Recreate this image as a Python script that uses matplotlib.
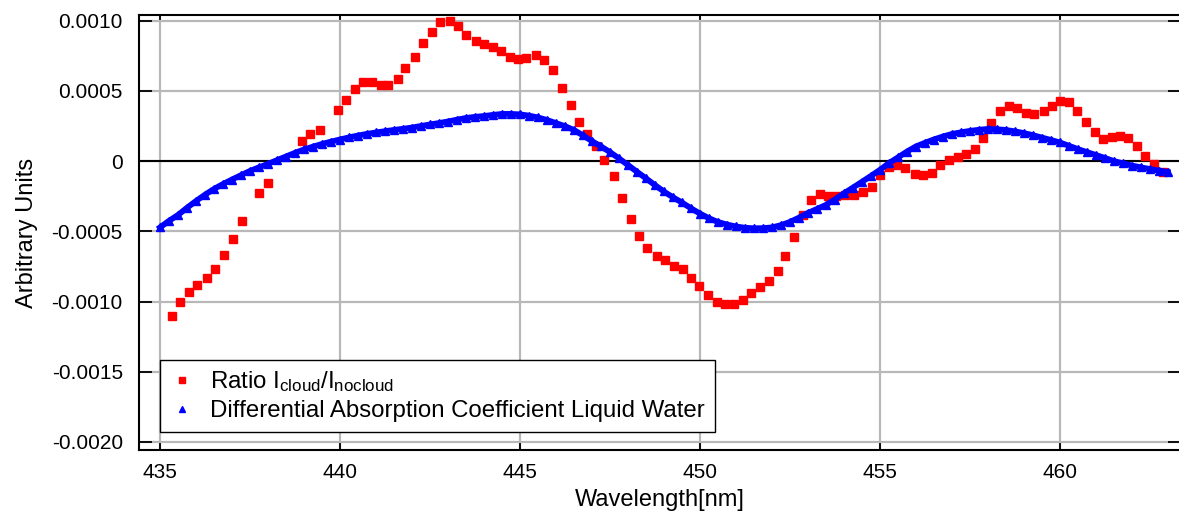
import matplotlib
matplotlib.use("Agg")
import matplotlib.pyplot as plt
from matplotlib.lines import Line2D

plt.rcParams['font.family'] = ['Liberation Sans', 'DejaVu Sans']
plt.rcParams['mathtext.fontset'] = 'custom'
plt.rcParams['mathtext.rm'] = 'Liberation Sans'
plt.rcParams['mathtext.it'] = 'Liberation Sans:italic'

# ratio I_cloud / I_nocloud (red squares), wavelength in nm, values in 1e-4
ratio_wl = [435.33, 435.56, 435.81, 436.04, 436.31, 436.54, 436.79, 437.02, 437.28, 437.76,
            437.99, 438.94, 439.18, 439.44, 439.94, 440.17, 440.41, 440.64, 440.90, 441.13,
            441.34, 441.60, 441.82, 442.08, 442.31, 442.57, 442.79, 443.06, 443.28, 443.51,
            443.77, 443.99, 444.25, 444.47, 444.73, 444.95, 445.18, 445.44, 445.67, 445.93,
            446.17, 446.42, 446.65, 446.86, 447.11, 447.34, 447.61, 447.83, 448.09, 448.32,
            448.54, 448.81, 449.04, 449.29, 449.52, 449.75, 449.99, 450.22, 450.48, 450.70,
            450.96, 451.19, 451.42, 451.68, 451.91, 452.16, 452.38, 452.61, 452.86, 453.09,
            453.35, 453.57, 453.79, 454.04, 454.29, 454.53, 454.78, 455.01, 455.26, 455.49,
            455.71, 455.97, 456.19, 456.45, 456.68, 456.91, 457.16, 457.39, 457.65, 457.88,
            458.10, 458.35, 458.58, 458.81, 459.07, 459.29, 459.55, 459.78, 460.01, 460.26,
            460.49, 460.74, 460.97, 461.19, 461.45, 461.68, 461.90, 462.16, 462.38, 462.61,
            462.86]
ratio_val = [-11.01, -10.06, -9.35, -8.85, -8.31, -7.67, -6.67, -5.53, -4.25, -2.26,
             -1.57, 1.44, 1.90, 2.19, 3.63, 4.32, 5.12, 5.62, 5.62, 5.39,
             5.39, 5.84, 6.60, 7.40, 8.40, 9.20, 9.87, 9.99, 9.61, 8.99,
             8.56, 8.33, 8.11, 7.85, 7.42, 7.24, 7.31, 7.52, 7.19, 6.48,
             5.17, 3.96, 2.80, 1.90, 1.07, 0.05, -1.09, -2.63, -4.11, -5.36,
             -6.17, -6.78, -7.05, -7.45, -7.71, -8.31, -8.90, -9.56, -10.06, -10.18,
             -10.18, -9.89, -9.40, -8.95, -8.52, -7.83, -6.78, -5.39, -3.84, -2.80,
             -2.37, -2.51, -2.51, -2.42, -2.42, -2.21, -1.87, -0.98, -0.45, -0.30,
             -0.48, -0.94, -1.00, -0.82, -0.28, 0.07, 0.31, 0.51, 0.85, 1.65,
             2.74, 3.54, 3.91, 3.75, 3.44, 3.35, 3.54, 3.89, 4.28, 4.22,
             3.59, 2.76, 2.03, 1.57, 1.71, 1.77, 1.62, 1.09, 0.38, -0.19,
             -0.76]

# differential absorption coefficient of liquid water (blue triangles), values in 1e-4
water_wl = [435.0, 435.25, 435.5, 435.75, 436.0, 436.25, 436.5, 436.75, 437.0, 437.25,
            437.5, 437.75, 438.0, 438.25, 438.5, 438.75, 439.0, 439.25, 439.5, 439.75,
            440.0, 440.25, 440.5, 440.75, 441.0, 441.25, 441.5, 441.75, 442.0, 442.25,
            442.5, 442.75, 443.0, 443.25, 443.5, 443.75, 444.0, 444.25, 444.5, 444.75,
            445.0, 445.25, 445.5, 445.75, 446.0, 446.25, 446.5, 446.75, 447.0, 447.25,
            447.5, 447.75, 448.0, 448.25, 448.5, 448.75, 449.0, 449.25, 449.5, 449.75,
            450.0, 450.25, 450.5, 450.75, 451.0, 451.25, 451.5, 451.75, 452.0, 452.25,
            452.5, 452.75, 453.0, 453.25, 453.5, 453.75, 454.0, 454.25, 454.5, 454.75,
            455.0, 455.25, 455.5, 455.75, 456.0, 456.25, 456.5, 456.75, 457.0, 457.25,
            457.5, 457.75, 458.0, 458.25, 458.5, 458.75, 459.0, 459.25, 459.5, 459.75,
            460.0, 460.25, 460.5, 460.75, 461.0, 461.25, 461.5, 461.75, 462.0, 462.25,
            462.5, 462.75, 463.0]
water_val = [-4.73, -4.26, -3.84, -3.33, -2.85, -2.40, -1.99, -1.64, -1.32, -1.01,
             -0.71, -0.45, -0.21, 0.06, 0.32, 0.58, 0.82, 1.02, 1.21, 1.38,
             1.53, 1.68, 1.81, 1.93, 2.03, 2.12, 2.21, 2.29, 2.38, 2.49,
             2.60, 2.70, 2.81, 2.94, 3.06, 3.14, 3.20, 3.28, 3.35, 3.35,
             3.32, 3.23, 3.10, 2.92, 2.70, 2.48, 2.21, 1.83, 1.42, 1.04,
             0.64, 0.19, -0.28, -0.76, -1.23, -1.71, -2.17, -2.58, -2.95, -3.36,
             -3.74, -4.07, -4.34, -4.52, -4.66, -4.75, -4.79, -4.78, -4.73, -4.57,
             -4.34, -4.04, -3.70, -3.42, -3.13, -2.74, -2.31, -1.90, -1.49, -1.07,
             -0.64, -0.16, 0.25, 0.66, 1.03, 1.29, 1.53, 1.74, 1.92, 2.04,
             2.14, 2.22, 2.28, 2.26, 2.21, 2.11, 1.99, 1.84, 1.67, 1.50,
             1.32, 1.09, 0.85, 0.64, 0.43, 0.22, 0.00, -0.16, -0.32, -0.45,
             -0.57, -0.68, -0.78]

ratio_val = [v * 1e-4 for v in ratio_val]
water_val = [v * 1e-4 for v in water_val]

x_ticks = [435, 440, 445, 450, 455, 460]
y_ticks = [0.0010, 0.0005, 0, -0.0005, -0.0010, -0.0015, -0.0020]
y_tick_labels = ['0.0010', '0.0005', '0', '-0.0005', '-0.0010', '-0.0015', '-0.0020']

fig = plt.figure(figsize=(11.79, 5.11), dpi=100)
ax = fig.add_axes([0.1183, 0.1184, 0.8834, 0.8528])

ax.plot(ratio_wl, ratio_val, linestyle='none', marker='s', ms=6,
        color='#ff0000', mec='#ff0000', zorder=3)
ax.plot(water_wl, water_val, color='#0000ff', lw=4.2, zorder=4)
ax.plot(water_wl, water_val, linestyle='none', marker='^', ms=5.5,
        color='#0000ff', zorder=4)

ax.axhline(0, color='black', lw=1.5, zorder=2)

ax.set_xlim(434.43, 463.37)
ax.set_ylim(-0.0020605, 0.0010413)
ax.set_xticks(x_ticks)
ax.set_yticks(y_ticks)
ax.set_yticklabels(y_tick_labels)
ax.grid(True, color='#b8b8b8', lw=1.6, zorder=1)
ax.set_axisbelow(True)

ax.tick_params(axis='both', direction='in', top=True, right=True,
               labelsize=15, colors='black', width=1.3)
ax.tick_params(axis='y', length=9.5, pad=12)
ax.tick_params(axis='x', length=5, pad=9)
for s in ax.spines.values():
    s.set_linewidth(1.5)

ax.set_xlabel('Wavelength[nm]', fontsize=17, labelpad=5)
ax.set_ylabel('Arbitrary Units', fontsize=17, labelpad=10)

handles = [
    Line2D([], [], linestyle='none', marker='s', ms=5, color='#ff0000'),
    Line2D([], [], linestyle='none', marker='^', ms=5, color='#0000ff'),
]
labels = [r'Ratio I$_{\mathrm{cloud}}$/I$_{\mathrm{nocloud}}$',
          'Differential Absorption Coefficient Liquid Water']
leg = ax.legend(handles, labels, loc='lower left', bbox_to_anchor=(0.0197, 0.0425),
                fontsize=17.3, frameon=True, fancybox=False, framealpha=1,
                edgecolor='black', borderpad=0.4, handlelength=1.0,
                handletextpad=0.7, labelspacing=0.25, borderaxespad=0)
leg.get_frame().set_linewidth(1.0)

fig.savefig('out.png', dpi=100)
